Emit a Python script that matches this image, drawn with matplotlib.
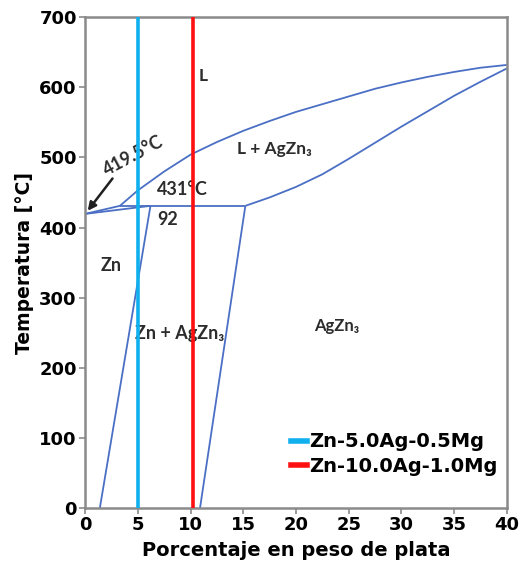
import matplotlib
matplotlib.use("Agg")
import matplotlib.pyplot as plt

# Zn-Ag phase diagram (Zn-rich side), temperature in °C vs wt% Ag
liquidus_ag = [0.0, 3.3, 5.0, 7.5, 10.0, 12.5, 15.0, 17.5, 20.0, 22.5, 25.0, 27.5, 30.0, 32.5, 35.0, 37.5, 40.0]
liquidus_t = [419.5, 431, 453, 480, 504, 522, 538, 552, 565, 576, 587, 598, 607, 615, 622, 628, 632]

agzn3_solidus_ag = [15.2, 17.5, 20.0, 22.5, 25.0, 27.5, 30.0, 32.5, 35.0, 37.5, 40.0]
agzn3_solidus_t = [431, 443, 458, 476, 498, 521, 544, 566, 588, 608, 627]

zn_solidus_ag = [0.0, 6.2]
zn_solidus_t = [419.5, 431]

peritectic_ag = [3.3, 15.2]
peritectic_t = [431, 431]

zn_solvus_ag = [6.2, 1.4]
zn_solvus_t = [431, 0]

agzn3_solvus_ag = [15.2, 10.9]
agzn3_solvus_t = [431, 0]

alloy_names = ["Zn-5.0Ag-0.5Mg", "Zn-10.0Ag-1.0Mg"]
alloy_ag = [5.0, 10.2]
alloy_colors = ["#10B0EE", "#FF1010"]

x_ticks = list(range(0, 41, 5))
y_ticks = list(range(0, 701, 100))

phase_color = "#4A6FC4"
text_color = "#2C2C2C"
spine_color = "#8A8A8A"

fig = plt.figure(figsize=(5.22, 5.75), dpi=100)
ax = fig.add_axes([0.163, 0.1165, 0.808, 0.8535])

lw = 1.3
for xs, ts in [(liquidus_ag, liquidus_t), (agzn3_solidus_ag, agzn3_solidus_t),
               (zn_solidus_ag, zn_solidus_t), (peritectic_ag, peritectic_t),
               (zn_solvus_ag, zn_solvus_t), (agzn3_solvus_ag, agzn3_solvus_t)]:
    ax.plot(xs, ts, color=phase_color, lw=lw, zorder=2,
            solid_capstyle="butt", solid_joinstyle="round")

for name, ag, c in zip(alloy_names, alloy_ag, alloy_colors):
    ax.axvline(ag, color=c, lw=2.6, zorder=4, label=name)

lab = dict(color=text_color, fontweight="bold", fontfamily=["Lato", "DejaVu Sans"],
           zorder=3, ha="center", va="center")
ax.text(11.2, 616, "L", fontsize=12.5, **lab)
ax.text(18.0, 512, "L + AgZn₃", fontsize=12.5, **lab)
ax.text(4.6, 503, "419.5°C", fontsize=13, rotation=28, **lab)
ax.text(9.2, 455, "431°C", fontsize=13, **lab)
ax.text(7.8, 412, "92", fontsize=13, **lab)
ax.text(2.45, 346, "Zn", fontsize=13, **lab)
ax.text(9.0, 249, "Zn + AgZn₃", fontsize=13, **lab)
ax.text(23.9, 260, "AgZn₃", fontsize=12, **lab)

ax.annotate("", xy=(0.25, 424), xytext=(2.6, 470),
            arrowprops=dict(arrowstyle="-|>", color="#202020", lw=1.8,
                            mutation_scale=12, shrinkA=0, shrinkB=0),
            zorder=3)

ax.set_xlim(0, 40)
ax.set_ylim(0, 700)
ax.set_xticks(x_ticks)
ax.set_yticks(y_ticks)

tick_font = dict(fontfamily="DejaVu Sans", fontweight="bold", fontsize=13)
ax.set_xticklabels([str(v) for v in x_ticks], **tick_font)
ax.set_yticklabels([str(v) for v in y_ticks], **tick_font)
ax.tick_params(direction="out", length=4, width=1.2, color=spine_color, pad=2)

for s in ax.spines.values():
    s.set_color(spine_color)
    s.set_linewidth(1.8)

ax.set_xlabel("Porcentaje en peso de plata", fontfamily="DejaVu Sans",
              fontweight="bold", fontsize=14, labelpad=5)
ax.set_ylabel("Temperatura [°C]", fontfamily="DejaVu Sans",
              fontweight="bold", fontsize=13.5, labelpad=4)

leg = ax.legend(loc="lower right", bbox_to_anchor=(1.0, 0.045), frameon=False,
                handlelength=0.8, handletextpad=0.1, labelspacing=0.3,
                borderaxespad=0.1,
                prop=dict(family="DejaVu Sans", weight="bold", size=14))
for h in leg.get_lines():
    h.set_linewidth(4)

fig.savefig("out.png", dpi=100)
